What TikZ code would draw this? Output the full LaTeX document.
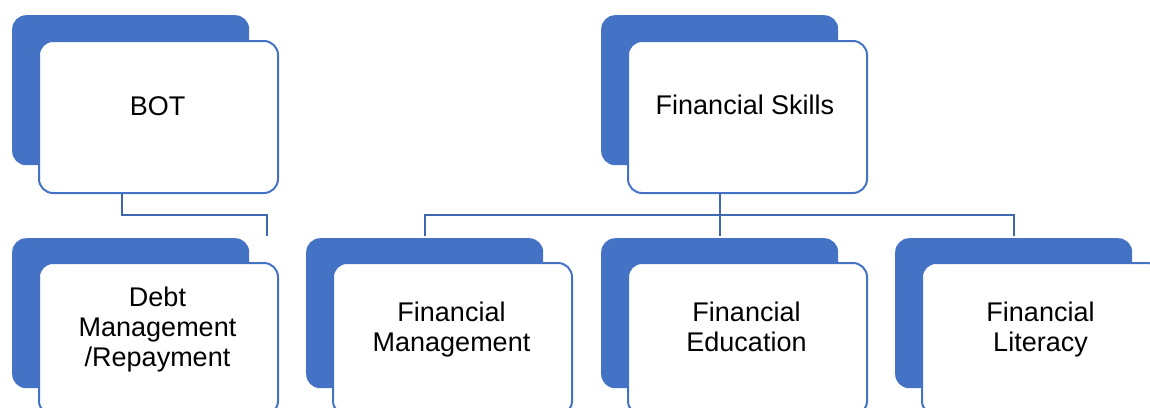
\documentclass[tikz,border=0pt]{standalone}
\usepackage{fontspec}
\setmainfont{Liberation Sans}
\definecolor{acc}{HTML}{4472C4}
\definecolor{conn}{HTML}{3F67B0}
\begin{document}
\begin{tikzpicture}[x=1pt,y=-1pt,
  back/.style={rectangle, fill=acc, draw=none, rounded corners=14pt, minimum width=237pt, minimum height=150pt, anchor=north west, inner sep=0pt},
  front/.style={rectangle, fill=white, draw=acc, line width=2pt, rounded corners=14pt, minimum width=239pt, minimum height=152pt, anchor=north west, inner sep=0pt},
  lbl/.style={anchor=north, inner sep=0pt, align=center, font=\fontsize{27}{30}\selectfont, text=black},
  link/.style={draw=conn, line width=2pt}]
\useasboundingbox (0,0) rectangle (1150,407);
\clip (0,0) rectangle (1150,407);
% top row
\node[back]  (botB) at (12,15) {};
\node[front] (botF) at (38,40) {};
\node[back]  (fsB) at (601,15) {};
\node[front] (fsF) at (627,40) {};
% bottom row
\node[back]  (dmB) at (12,238) {};
\node[front] (dmF) at (38,262) {};
\node[back]  (fmB) at (306,238) {};
\node[front] (fmF) at (332,262) {};
\node[back]  (feB) at (601,238) {};
\node[front] (feF) at (627,262) {};
\node[back]  (flB) at (895,238) {};
\node[front] (flF) at (921,262) {};
% labels
\node[lbl] (botT) at (157.5,96) {BOT};
\node[lbl] (fsT) at (745,95) {Financial Skills};
\node[lbl] (dmT) at (157.5,287) {Debt\\Management\\/Repayment};
\node[lbl] (fmT) at (451.5,302) {Financial\\Management};
\node[lbl] (feT) at (746.5,302) {Financial\\Education};
\node[lbl] (flT) at (1040.5,302) {Financial\\Literacy};
% connectors
\coordinate (botEnd) at (267,236);
\draw[link] ([xshift=-36.5pt]botF.south) -- ++(0,21) -| (botEnd);
\draw[link] (fsB.center |- fsF.south) -- ++(0,21) coordinate (bus);
\draw[link] (bus) -| ([yshift=2pt]fmB.north);
\draw[link] (bus) -- ([yshift=2pt]feB.north);
\draw[link] (bus) -| ([yshift=2pt]flB.north);
\end{tikzpicture}
\end{document}
